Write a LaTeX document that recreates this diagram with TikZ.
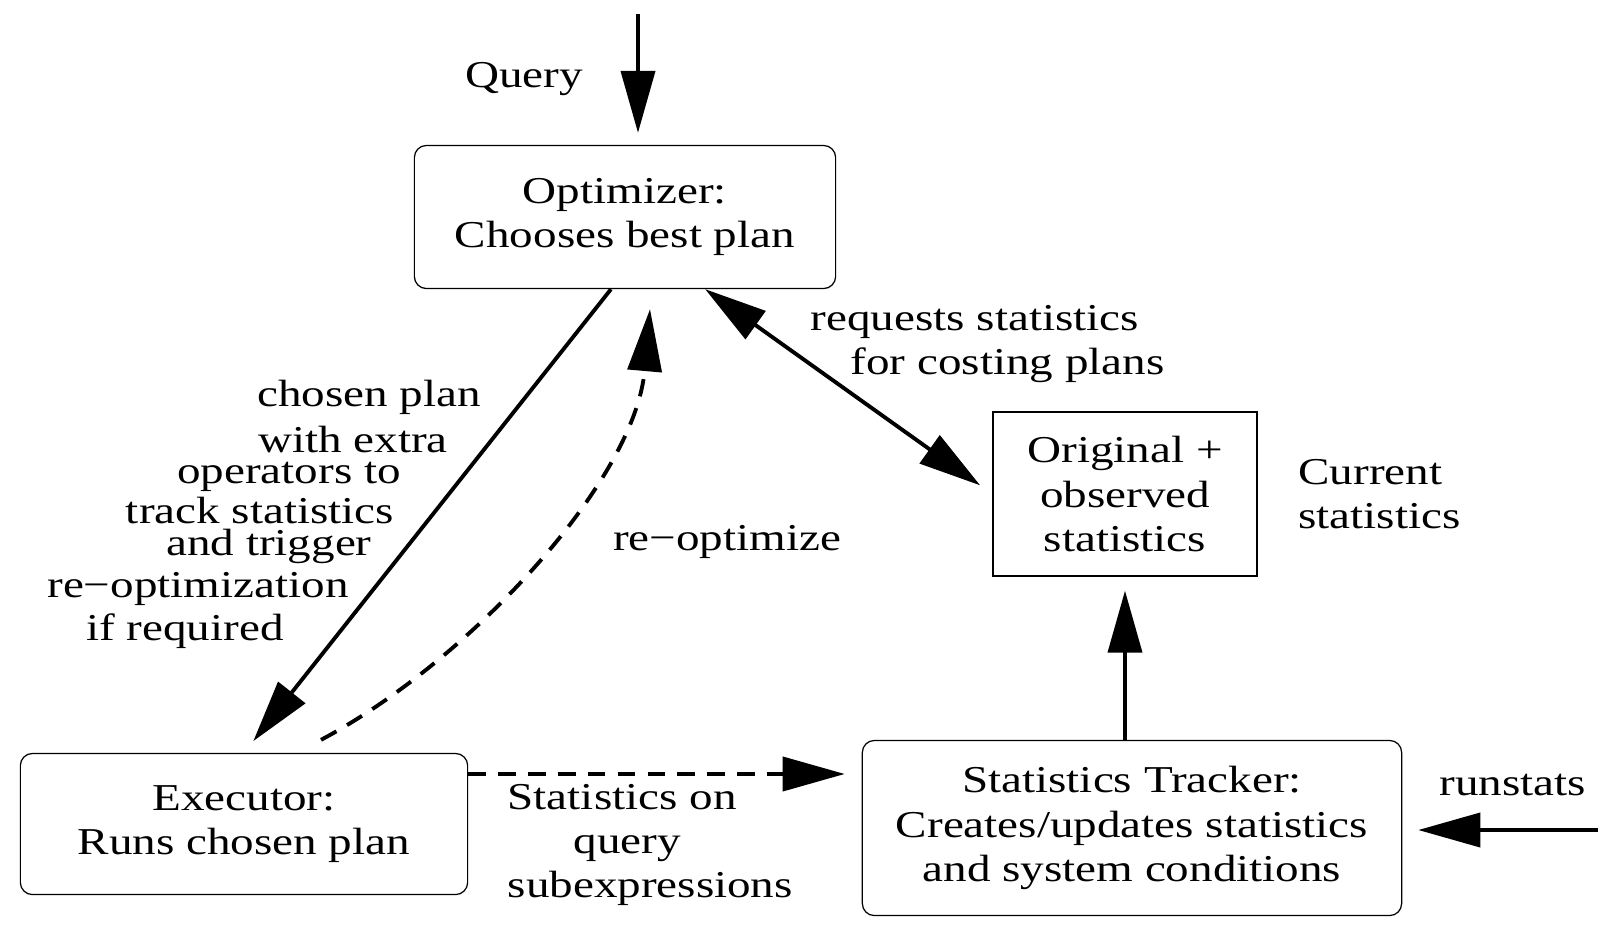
\documentclass[tikz,border=0pt]{standalone}
\usepackage{fontspec}
\setmainfont{Liberation Serif}[FakeStretch=1.24]
\usetikzlibrary{arrows.meta,positioning,calc}

\tikzset{bigtip/.tip={Triangle[length=6.2mm,width=3.4mm]}}

\begin{document}
\begin{tikzpicture}[x=0.01cm, y=-0.01cm, font=\fontsize{10.8pt}{12.6pt}\selectfont,
    box/.style={draw, line width=0.35pt, rounded corners=1.2mm, align=center},
    flow/.style={line width=1.1pt, -bigtip},
    dflow/.style={flow, dash pattern=on 5pt off 3.5pt},
    lbl/.style={inner sep=0pt, align=center}]
      \useasboundingbox (0,0) rectangle (1614,932);
      % boxes
      \node [box, minimum width=4.21cm, minimum height=1.43cm] (opt) at (625,217) {Optimizer:\\Chooses best plan};
      \node [box, minimum width=4.47cm, minimum height=1.41cm] (exec) at (244,824) {Executor:\\Runs chosen plan};
      \node [box, rounded corners=0pt, minimum width=2.64cm, minimum height=1.64cm] (orig) at (1125,494) {Original +\\observed\\statistics};
      \node [box, minimum width=5.39cm, minimum height=1.75cm] (trk) at (1132,828) {Statistics Tracker:\\Creates/updates statistics\\and system conditions};
      \coordinate (qin) at (638,14);
      \coordinate (rs) at (1598,830);
      \coordinate (sout) at ([yshift=5mm]exec.east);
      % labels
      \node [lbl] (query) at (524,79) {Query};
      \node [lbl, align=left, anchor=west] (req) at (810,344) {requests statistics\\\hspace*{4mm}for costing plans};
      \node [lbl, align=left, right=4mm of orig] (cur) {Current\\statistics};
      \node [lbl] (reopt) at (727,542) {re−optimize};
      \node [lbl] (runst) at (1513,785) {runstats};
      \node [lbl, align=left, anchor=west] (sub) at (507,845) {Statistics on\\\hspace*{6.6mm}query\\subexpressions};
      \node [lbl] (ch1) at (369,397) {chosen plan};
      \node [lbl] (ch2) at (353,439) {with extra};
      \node [lbl] (ch3) at (289,477) {operators to};
      \node [lbl] (ch4) at (260,510) {track statistics};
      \node [lbl] (ch5) at (269,546) {and trigger};
      \node [lbl] (ch6) at (198,589) {re−optimization};
      \node [lbl] (ch7) at (185,631) {if required};
      % connectors
      \draw [flow, shorten >=1.2mm] (qin) -- (qin |- opt.north);
      \draw [flow, shorten >=1.5mm] (opt.259) -- (exec.north);
      \draw [line width=1.1pt, bigtip-bigtip, shorten >=1.5mm] (opt.-42) -- (orig.west);
      \draw [dflow] ([xshift=7.7mm,yshift=1.3mm]exec.north) .. controls +(150,-80) and +(-15,171) .. ([xshift=2.5mm,yshift=-2mm]opt.south);
      \draw [dflow, shorten >=1.7mm] (sout) -- (trk.west |- sout);
      \draw [flow, shorten >=1.4mm] (orig.south |- trk.north) -- (orig.south);
      \draw [flow, shorten >=1.6mm] (rs) -- (rs -| trk.east);
\end{tikzpicture}
\end{document}
